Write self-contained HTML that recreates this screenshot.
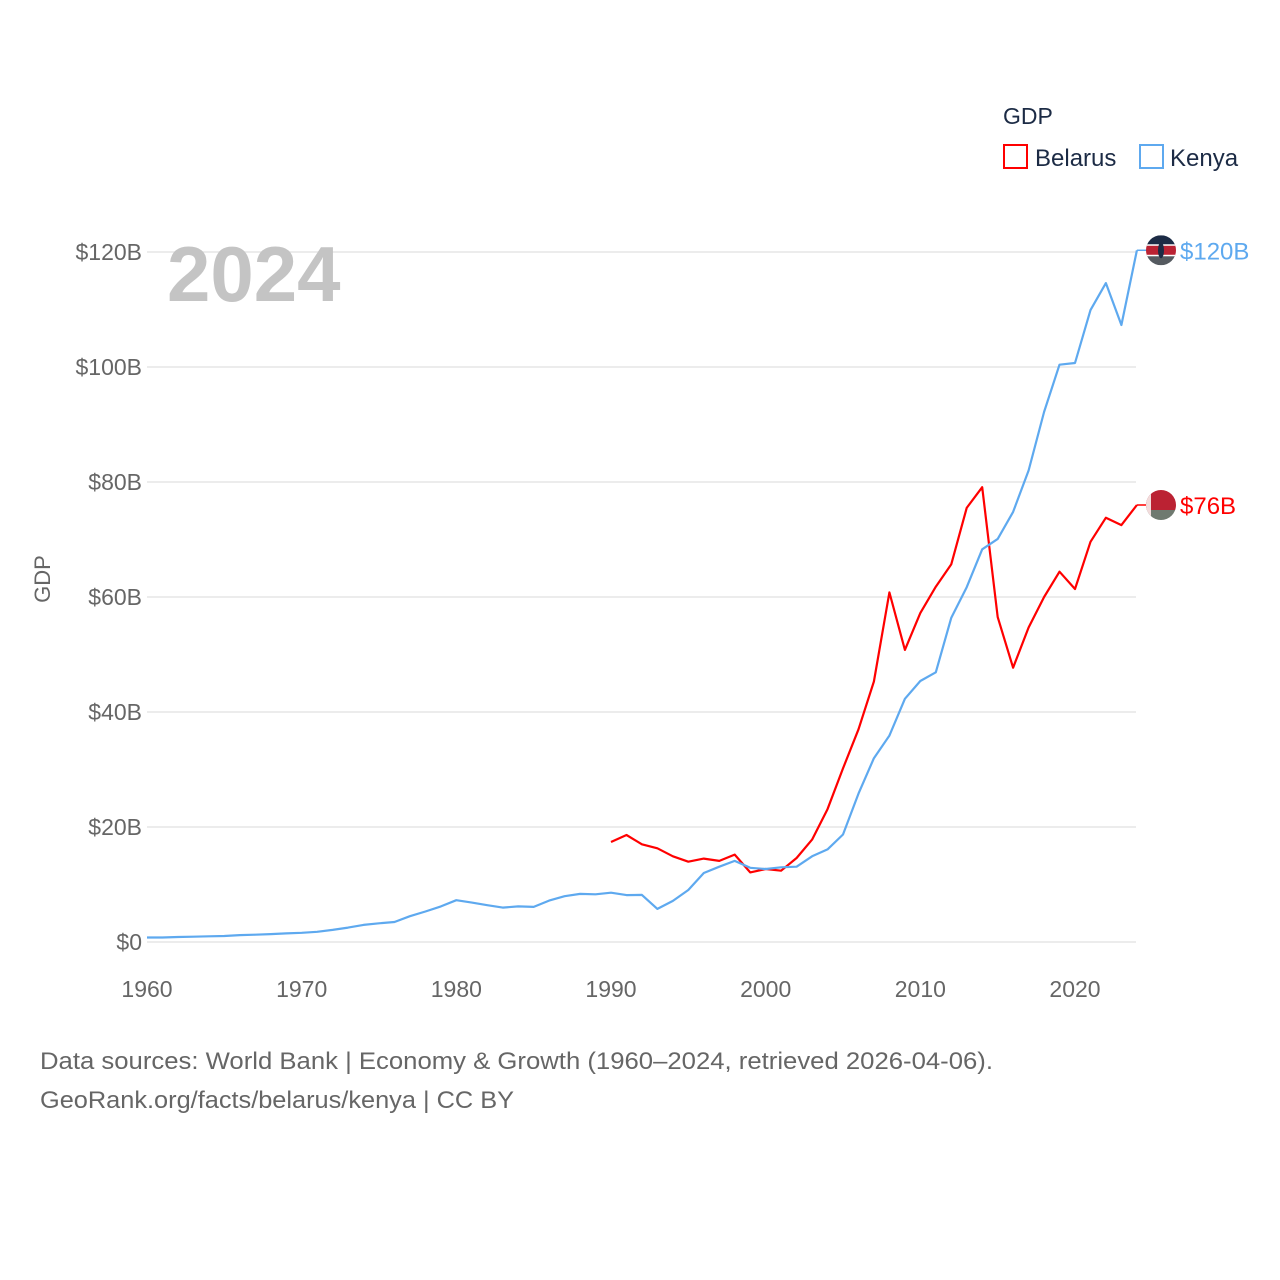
<!DOCTYPE html>
<html><head><meta charset="utf-8"><style>
body{margin:0;background:#fff;}
svg{display:block;font-family:"Liberation Sans",sans-serif;}
</style></head><body>
<svg id="chart" width="1280" height="1280" viewBox="0 0 1280 1280">
<text x="1003" y="124" font-size="23" fill="#1c2b45">GDP</text>
<g><rect x="1004" y="145" width="23" height="23" fill="none" stroke="#ff0000" stroke-width="2"/><text x="1035" y="166" font-size="24" fill="#1c2b45">Belarus</text></g>
<g><rect x="1140" y="145" width="23" height="23" fill="none" stroke="#5ea9ef" stroke-width="2"/><text x="1170" y="166" font-size="24" fill="#1c2b45">Kenya</text></g>
<g id="grid"></g>
<text x="167" y="301" font-size="78" font-weight="bold" fill="#c4c4c4">2024</text>
<text transform="translate(50,579) rotate(-90)" text-anchor="middle" font-size="22" fill="#666">GDP</text>
<g id="lines"></g>
<text x="40" y="1069" font-size="24" fill="#666" textLength="953" lengthAdjust="spacingAndGlyphs">Data sources: World Bank | Economy &amp; Growth (1960–2024, retrieved 2026-04-06).</text>
<text x="40" y="1108" font-size="24" fill="#666" textLength="474" lengthAdjust="spacingAndGlyphs">GeoRank.org/facts/belarus/kenya | CC BY</text>
</svg>
<script>
const yTicks=[0,20,40,60,80,100,120];
const yTickLabels=["$0","$20B","$40B","$60B","$80B","$100B","$120B"];
const xTicks=[1960,1970,1980,1990,2000,2010,2020];
const kenyaStart=1960;
const kenya=[0.79,0.79,0.87,0.93,1.0,1.05,1.2,1.27,1.38,1.5,1.6,1.77,2.1,2.5,2.97,3.26,3.47,4.49,5.3,6.2,7.27,6.85,6.4,5.98,6.19,6.1,7.2,7.97,8.36,8.3,8.57,8.15,8.2,5.75,7.15,9.05,12.0,13.1,14.1,12.9,12.7,12.99,13.1,14.9,16.1,18.7,25.8,31.96,35.9,42.3,45.4,46.9,56.4,61.7,68.3,70.1,74.8,82.0,92.2,100.4,100.7,109.9,114.6,107.3,120.3];
const belarusStart=1990;
const belarus=[17.4,18.6,17.0,16.3,14.9,13.97,14.5,14.1,15.2,12.1,12.7,12.4,14.6,17.8,23.1,30.2,37.0,45.3,60.8,50.8,57.2,61.8,65.7,75.5,79.1,56.5,47.7,54.7,60.0,64.4,61.4,69.6,73.8,72.5,76.0];
const endLabels=["$120B","$76B"];
const NS="http://www.w3.org/2000/svg";
const x=yr=>147+(yr-1960)*(928/60);
const y=v=>942-v*5.75;
const grid=document.getElementById('grid'),lines=document.getElementById('lines');
function mk(tag,attrs,parent){const e=document.createElementNS(NS,tag);for(const k in attrs)e.setAttribute(k,attrs[k]);parent.appendChild(e);return e;}
yTicks.forEach((t,i)=>{
  const l=mk('line',{x1:147,x2:1136,y1:y(t),y2:y(t),stroke:'#e6e6e6','stroke-width':1.5},grid);
  
  
  const tx=mk('text',{x:142,y:y(t)+8,'text-anchor':'end','font-size':23,fill:'#666'},grid);
  tx.textContent=yTickLabels[i];
  
  
});
xTicks.forEach(t=>{
  const tx=mk('text',{x:x(t),y:997,'text-anchor':'middle','font-size':23,fill:'#666'},grid);
  tx.textContent=t;
  
  
});
function series(data,start,color,name,label,flag){
  const pts=data.map((v,i)=>x(start+i).toFixed(1)+','+y(v).toFixed(1));
  const last=data[data.length-1],ly=y(last),lx=x(start+data.length-1);
  const p=mk('polyline',{points:pts.join(' '),fill:'none',stroke:color,'stroke-width':2.2,'stroke-linejoin':'round'},lines);
  
  
  mk('line',{x1:lx,x2:1150,y1:ly,y2:ly,stroke:color,'stroke-width':1.5},lines);
  const g=mk('g',{},lines);
  
  
  const cid='c'+name;
  const cp=mk('clipPath',{id:cid},g);mk('circle',{cx:1161,cy:ly,r:15},cp);
  const fg=mk('g',{'clip-path':'url(#'+cid+')'},g);
  if(flag==='ke'){
    mk('rect',{x:1146,y:ly-15,width:30,height:10,fill:'#1c2b45'},fg);
    mk('rect',{x:1146,y:ly-5,width:30,height:10,fill:'#bb2233'},fg);
    mk('rect',{x:1146,y:ly+5,width:30,height:10,fill:'#555a60'},fg);
    mk('rect',{x:1146,y:ly-6,width:30,height:1.5,fill:'#fff'},fg);
    mk('rect',{x:1146,y:ly+4.5,width:30,height:1.5,fill:'#fff'},fg);
    mk('ellipse',{cx:1161,cy:ly,rx:3,ry:8,fill:'#1c2b45'},fg);
  }else{
    mk('rect',{x:1146,y:ly-15,width:30,height:20,fill:'#bb2233'},fg);
    mk('rect',{x:1146,y:ly+5,width:30,height:10,fill:'#6f7a70'},fg);
    mk('rect',{x:1146,y:ly-15,width:5,height:30,fill:'#f2dcdc'},fg);
  }
  const t=mk('text',{x:1180,y:ly+9,'font-size':24,fill:color},lines);
  t.textContent=label;
  
  
}
series(belarus,belarusStart,'#ff0000','belarus',endLabels[1],'by');
series(kenya,kenyaStart,'#5ea9ef','kenya',endLabels[0],'ke');
</script>
</body></html>
